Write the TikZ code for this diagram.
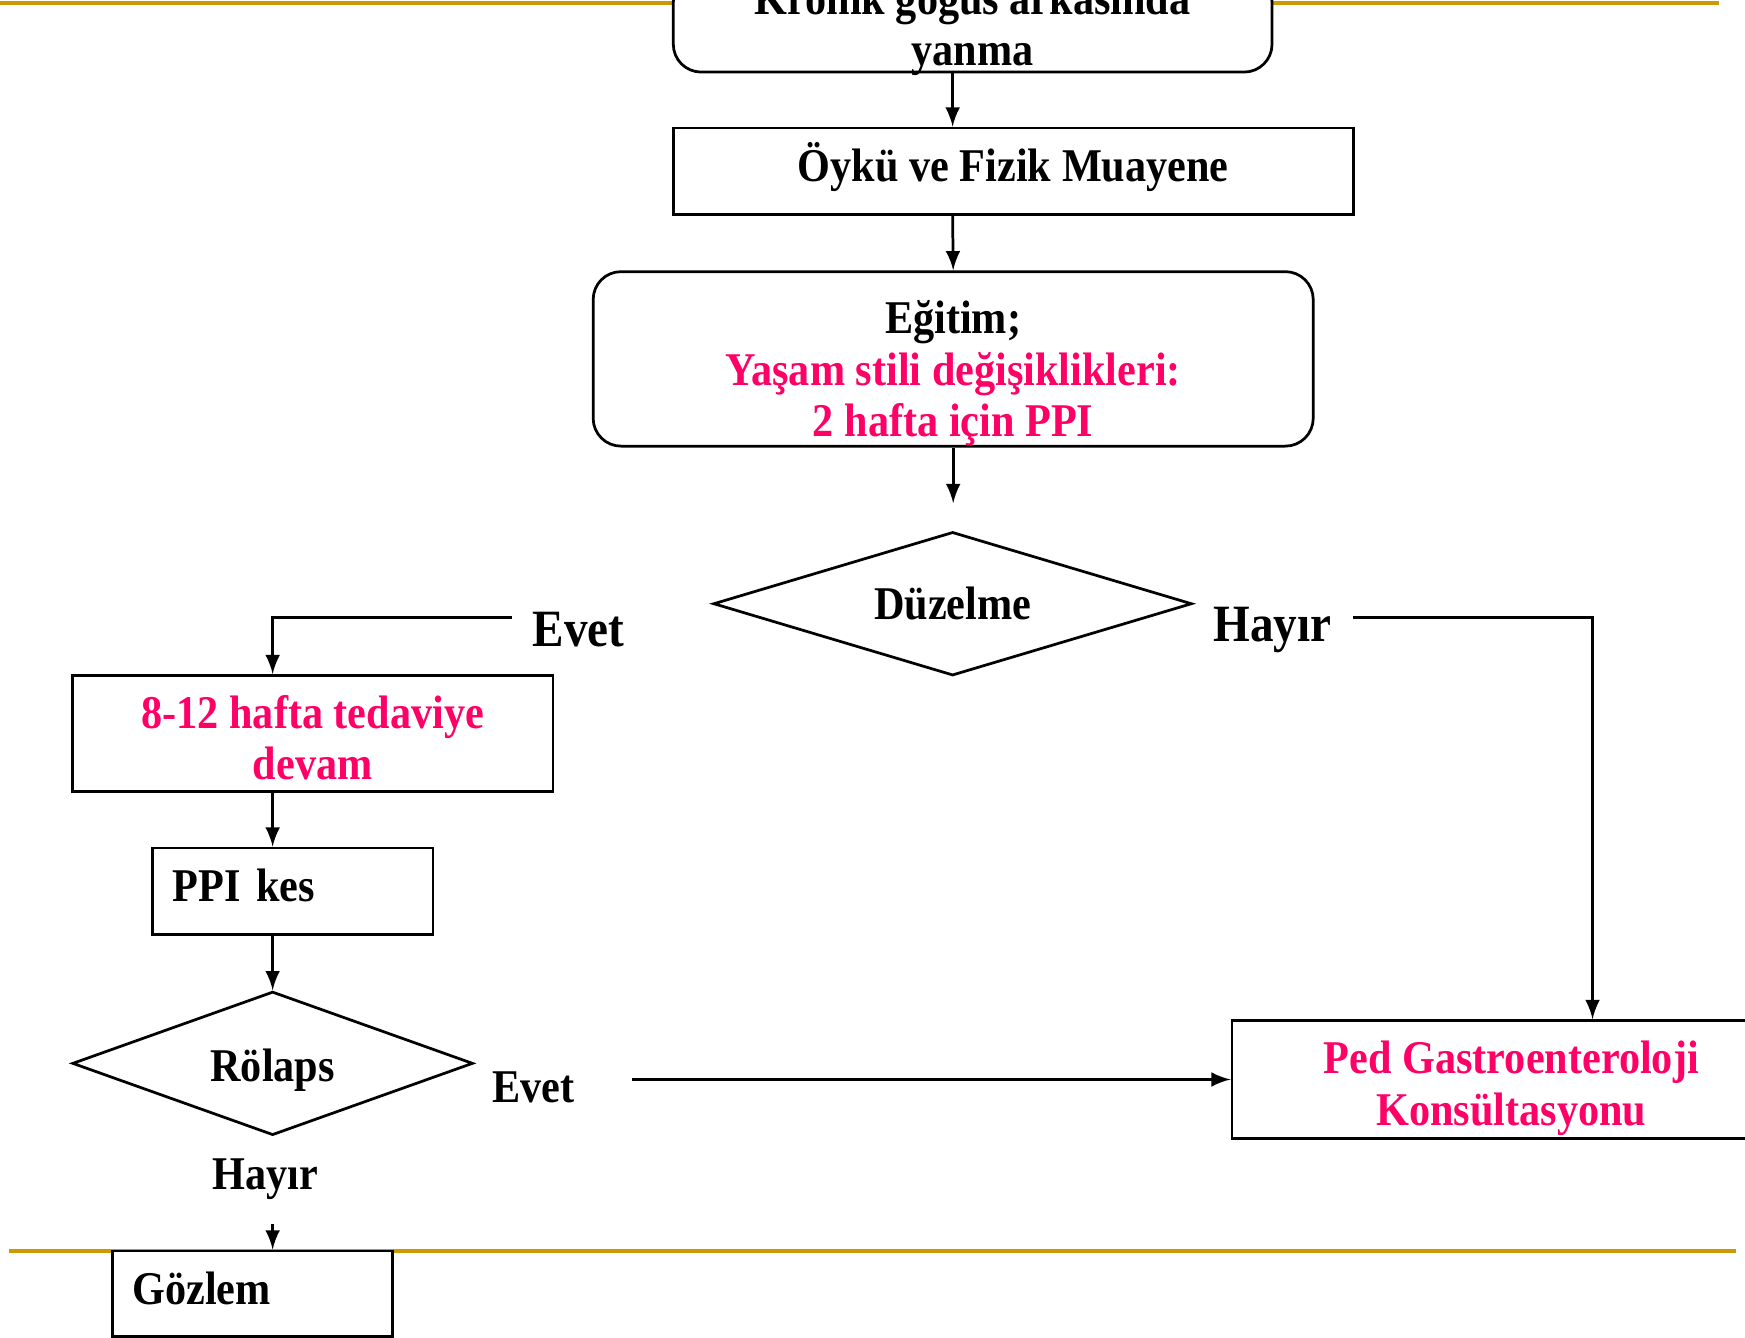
\documentclass[tikz,border=0pt]{standalone}
\usepackage{fontspec}
\setmainfont{Liberation Serif}[FakeStretch=0.9]
\usepackage{tikz}
\usetikzlibrary{shapes.geometric, arrows}
\definecolor{rosered}{RGB}{255,0,102}
\definecolor{linegold}{RGB}{204,153,0}
\newcommand{\pfont}{\fontsize{12pt}{13.1pt}\selectfont\bfseries}
\newcommand{\pbigfont}{\fontsize{13.4pt}{15pt}\selectfont\bfseries}
\tikzstyle{proundbox} = [rectangle, rounded corners=0.25cm, align=center, draw=black, fill=white, line width=0.7pt]
\tikzstyle{pbox} = [rectangle, align=center, draw=black, fill=white, line width=0.7pt]
\tikzstyle{pleftbox} = [rectangle, align=left, inner xsep=0.18cm, text height=0.3cm, text depth=0.11cm, draw=black, fill=white, line width=0.7pt]
\tikzstyle{pdecision} = [diamond, aspect=3, inner sep=0pt, draw=black, fill=white, line width=0.7pt]
\tikzstyle{answer} = [inner sep=0pt]
\tikzstyle{arrow} = [line width=0.7pt,->,>=latex]
\tikzstyle{goldline} = [draw=linegold, line width=1pt]

\begin{document}
\begin{tikzpicture}[font=\pfont]
\useasboundingbox (0,0) rectangle (15.68,-12.02);
\clip (0,0) rectangle (15.68,-12.02);
\draw [goldline] (0,-0.03) -- (15.45,-0.03);
\draw [goldline] (0.08,-11.24) -- (15.60,-11.24);
\node (kronik) [proundbox, anchor=south, inner ysep=0.06cm, minimum width=5.38cm] at (8.74,-0.66) {Kronik göğüs arkasında\\\raisebox{0pt}[\height][0pt]{yanma}};
\node (oyku) [pbox, text height=0.3cm, text depth=0.11cm, minimum width=6.11cm, minimum height=0.78cm] at (9.105,-1.54) {Öykü ve Fizik Muayene};
\node (egitim) [proundbox, inner ysep=0pt, minimum width=6.47cm, minimum height=1.55cm] at (8.565,-3.225) {\rule{0pt}{0.56cm}Eğitim;\\\textcolor{rosered}{Yaşam stili değişiklikleri:}\\\textcolor{rosered}{2 hafta için PPI}};
\node (duzelme) [pdecision, text height=0.37cm, text depth=0.08cm, minimum width=4.30cm, minimum height=1.29cm] at (8.56,-5.425) {Düzelme};
\node (evet1) [answer, font=\pbigfont] at (5.20,-5.66) {Evet};
\node (hayir1) [answer, font=\pbigfont] at (11.435,-5.66) {Hayır};
\node (devam) [pbox, inner ysep=0.05cm, text=rosered, minimum width=4.32cm, minimum height=1.04cm] at (2.81,-6.59) {\rule{0pt}{0.38cm}8-12 hafta tedaviye\\devam};
\node (ppikes) [pleftbox, text width=2.16cm, minimum height=0.78cm] at (2.63,-8.01) {PPI kes};
\node (rolaps) [pdecision, text height=0.4cm, text depth=0.08cm, minimum width=3.60cm, minimum height=1.29cm] at (2.45,-9.555) {Rölaps};
\node (evet2) [answer] at (4.795,-9.77) {Evet};
\node (hayir2) [answer] at (2.385,-10.60) {Hayır};
\node (ped) [pbox, inner ysep=0pt, text=rosered, minimum width=5.02cm, minimum height=1.06cm] at (13.58,-9.70) {\rule{0pt}{0.45cm}Ped Gastroenteroloji\\Konsültasyonu};
\node (gozlem) [pleftbox, text width=2.16cm, minimum height=0.77cm] at (2.27,-11.625) {Gözlem};
\coordinate (e1) at (4.60,-5.55);
\coordinate (h1) at (12.16,-5.55);
\coordinate (e2) at (5.68,-9.70);
\coordinate (g1) at (2.45,-11.00);
\draw [arrow] (kronik.south -| duzelme.north) -- (oyku.north -| duzelme.north);
\draw [arrow] (oyku.south -| duzelme.north) -- (egitim.north);
\draw [arrow] (egitim.south) -- ++(0,-0.5);
\draw [arrow] (e1) -| (rolaps.north |- devam.north);
\draw [arrow] (h1) -| ([xshift=0.73cm]ped.north);
\draw [arrow] (devam.south -| rolaps.north) -- (ppikes.north -| rolaps.north);
\draw [arrow] (ppikes.south -| rolaps.north) -- (rolaps.north);
\draw [arrow] (e2) -- (ped.west);
\draw [arrow] (g1) -- (g1 |- gozlem.north);
\end{tikzpicture}
\end{document}
